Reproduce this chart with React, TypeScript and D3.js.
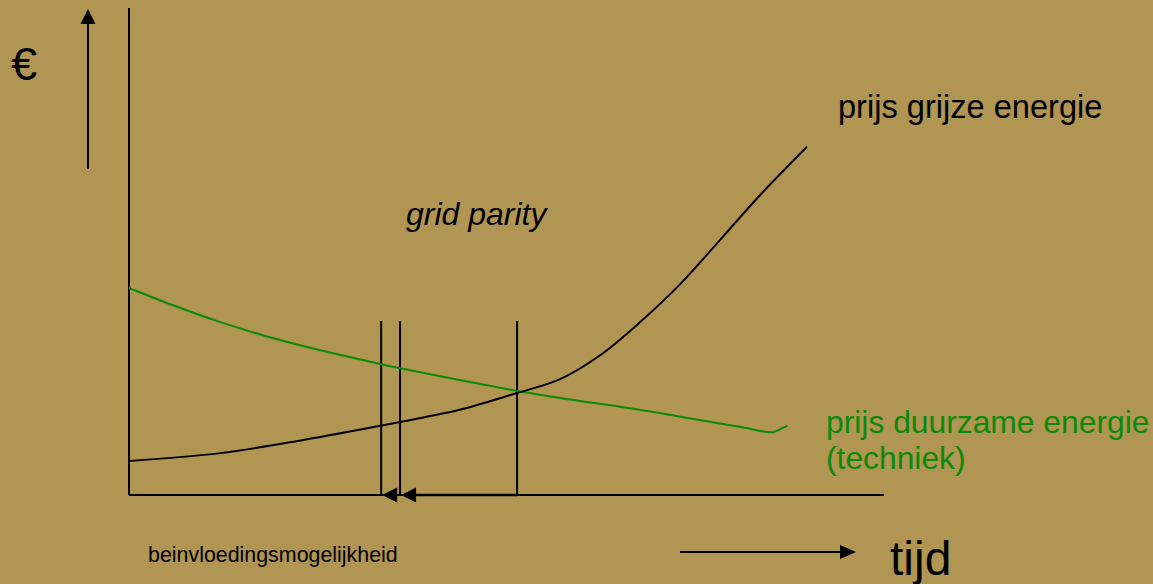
import { useEffect, useRef } from 'react';
import * as d3 from 'd3';

// time axis and price axis both in relative units 0..100
const greyX = [0, 12.1, 23.1, 33.3, 35.9, 43.8, 51.3, 57.1, 62.4, 67.7, 73.0, 78.3, 83.6, 89.8];
const greyY = [7.0, 8.6, 11.3, 14.2, 15.0, 17.5, 20.9, 23.8, 28.7, 35.5, 43.3, 52.4, 61.6, 71.5];

const greenX = [0, 6.1, 12.1, 21.0, 33.3, 43.8, 51.3, 57.1, 66.8, 75.6, 80.9, 85.3, 86.6, 87.2];
const greenY = [42.5, 38.8, 35.5, 31.4, 26.9, 23.6, 21.4, 19.9, 17.7, 15.4, 14.0, 12.9, 13.8, 14.2];

const markerX = [33.4, 35.9, 51.4];
const markerTop = 35.7;

const BG = '#b19552';
const GREEN = '#0a8a0a';
const FONT = '"Liberation Sans", Arial, sans-serif';

export default function App() {
  const ref = useRef<SVGSVGElement>(null);

  useEffect(() => {
    if (!ref.current) return;
    const width = 1153;
    const height = 584;

    const svg = d3.select(ref.current);
    svg.selectAll('*').remove();
    svg.attr('width', width).attr('height', height);

    svg.append('rect').attr('width', width).attr('height', height).attr('fill', BG);

    const x = d3.scaleLinear().domain([0, 100]).range([129, 884]);
    const y = d3.scaleLinear().domain([0, 100]).range([495, 8]);

    const line = d3.line<[number, number]>()
      .x(d => x(d[0]))
      .y(d => y(d[1]))
      .curve(d3.curveCatmullRom.alpha(0.5));

    // axes (no ticks, plain lines)
    svg.append('line')
      .attr('x1', x(0)).attr('x2', x(0)).attr('y1', y(100)).attr('y2', y(0))
      .attr('stroke', '#000').attr('stroke-width', 2);
    svg.append('line')
      .attr('x1', x(0)).attr('x2', x(100)).attr('y1', y(0)).attr('y2', y(0))
      .attr('stroke', '#000').attr('stroke-width', 2);

    // vertical markers
    markerX.forEach(m => {
      svg.append('line')
        .attr('x1', x(m)).attr('x2', x(m)).attr('y1', y(markerTop)).attr('y2', y(0))
        .attr('stroke', '#000').attr('stroke-width', 2);
    });

    // curves
    svg.append('path')
      .attr('d', line(greenX.map((v, i) => [v, greenY[i]] as [number, number])))
      .attr('fill', 'none').attr('stroke', GREEN).attr('stroke-width', 2);
    svg.append('path')
      .attr('d', line(greyX.map((v, i) => [v, greyY[i]] as [number, number])))
      .attr('fill', 'none').attr('stroke', '#000').attr('stroke-width', 2);

    // arrowheads helper
    const head = (tx: number, ty: number, dir: 'left' | 'right' | 'up', len = 15, half = 7.5) => {
      let pts: [number, number][];
      if (dir === 'left') pts = [[tx, ty], [tx + len, ty - half], [tx + len, ty + half]];
      else if (dir === 'right') pts = [[tx, ty], [tx - len, ty - half], [tx - len, ty + half]];
      else pts = [[tx, ty], [tx - half, ty + len], [tx + half, ty + len]];
      svg.append('polygon').attr('points', pts.map(p => p.join(',')).join(' ')).attr('fill', '#000');
    };

    // shift arrows along time axis
    const y0 = y(0);
    svg.append('line')
      .attr('x1', x(markerX[2])).attr('x2', x(markerX[1]) + 14).attr('y1', y0).attr('y2', y0)
      .attr('stroke', '#000').attr('stroke-width', 2.5);
    head(x(markerX[1]) + 1, y0, 'left');
    head(x(markerX[0]) + 1, y0, 'left');

    // € arrow
    svg.append('line').attr('x1', 88).attr('x2', 88).attr('y1', 169).attr('y2', 20)
      .attr('stroke', '#000').attr('stroke-width', 2);
    head(88, 9, 'up');

    // time arrow
    svg.append('line').attr('x1', 680).attr('x2', 842).attr('y1', 552).attr('y2', 552)
      .attr('stroke', '#000').attr('stroke-width', 2);
    head(856, 552, 'right', 16, 7);

    const text = (tx: number, ty: number, s: string, size: number, fill = '#000', italic = false) =>
      svg.append('text').attr('x', tx).attr('y', ty).attr('font-family', FONT)
        .attr('font-size', size).attr('fill', fill)
        .attr('font-style', italic ? 'italic' : 'normal').text(s);

    text(11, 80, '€', 47);
    text(838, 118, 'prijs grijze energie', 32.6);
    text(406, 225, 'grid parity', 32, '#000', true);
    text(826, 433, 'prijs duurzame energie', 31.8, GREEN);
    text(826, 469, '(techniek)', 31.8, GREEN);
    text(148, 562, 'beinvloedingsmogelijkheid', 21.4);
    text(890, 575, 'tijd', 48);
  }, []);

  return <svg ref={ref} style={{ position: 'absolute', left: 0, top: 0, display: 'block' }} />;
}
